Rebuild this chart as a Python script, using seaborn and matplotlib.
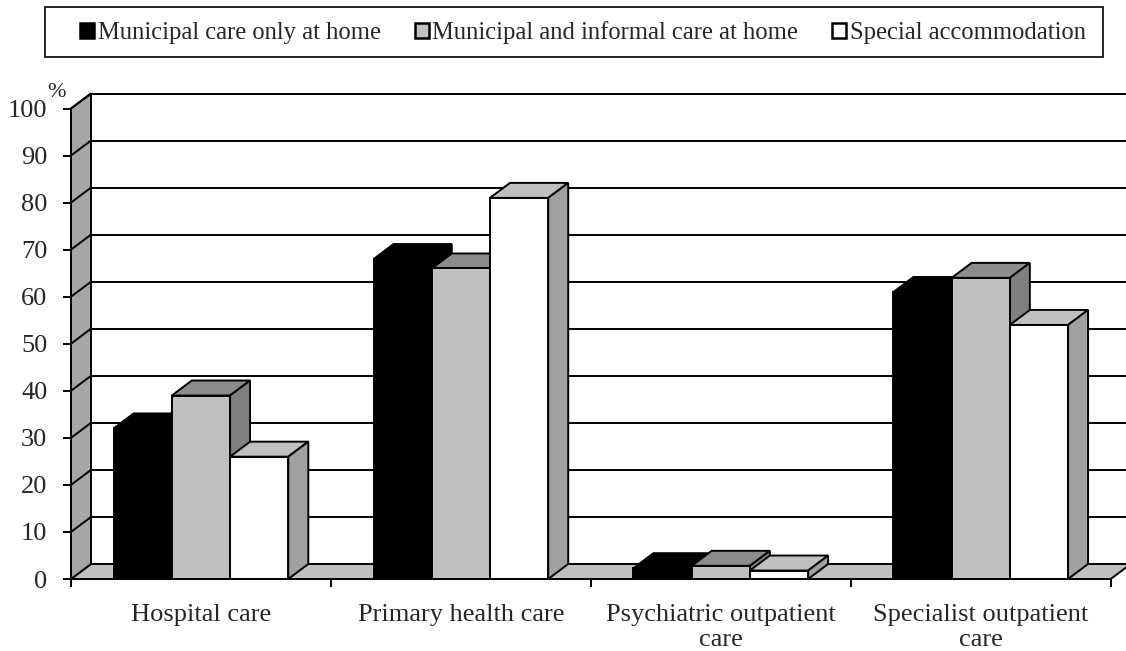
import matplotlib
matplotlib.use('Agg')
import pandas as pd
import seaborn as sns
import matplotlib.pyplot as plt
from matplotlib.patches import Polygon, Patch, Rectangle

categories = ['Hospital care', 'Primary health care',
              'Psychiatric outpatient\ncare', 'Specialist outpatient\ncare']
series = ['Municipal care only at home', 'Municipal and informal care at home',
          'Special accommodation']
home_only = [32, 68, 2.3, 61]
home_informal = [39, 66, 2.8, 64]
accommodation = [26, 81, 1.8, 54]
y_ticks = [0, 10, 20, 30, 40, 50, 60, 70, 80, 90, 100]

front_colors = ['#000000', '#c0c0c0', '#ffffff']
top_colors = ['#000000', '#8c8c8c', '#c0c0c0']
side_colors = ['#000000', '#808080', '#a0a0a0']
wall_color = '#a6a6a6'
floor_color = '#c0c0c0'

# depth of the fake 3D, in data units
DX = 20 / 260
DY = 15 / 4.705
LW = 1.4

sns.set_style('white')
plt.rcParams['font.family'] = ['Liberation Serif', 'DejaVu Serif']

df = pd.DataFrame({
    'category': categories * 3,
    'series': [s for s in series for _ in categories],
    'value': home_only + home_informal + accommodation,
})

fig = plt.figure(figsize=(11.26, 6.51), dpi=100)
ax = fig.add_axes([71 / 1126, 1 - 579 / 651, (1110.7 - 71) / 1126, (579 - 108.5) / 651])

sns.barplot(data=df, x='category', y='value', hue='series', order=categories, hue_order=series,
            palette=front_colors, width=0.672, gap=0, saturation=1, edgecolor='black',
            linewidth=LW, legend=False, ax=ax)

ax.set_xlim(-0.5, 3.5)
ax.set_ylim(0, 100)
x0, x1 = ax.get_xlim()

# floor and left wall
ax.add_patch(Polygon([(x0, 0), (x1, 0), (x1 + DX, DY), (x0 + DX, DY)], closed=True,
                     facecolor=floor_color, edgecolor='black', lw=LW, zorder=1, clip_on=False))
ax.add_patch(Polygon([(x0, 0), (x0 + DX, DY), (x0 + DX, 100 + DY), (x0, 100)], closed=True,
                     facecolor=wall_color, edgecolor='black', lw=LW, zorder=1, clip_on=False))

# gridlines on the back wall and left wall
for v in y_ticks[1:]:
    ax.plot([x0 + DX, x1 + DX], [v + DY, v + DY], color='black', lw=LW, zorder=1.5, clip_on=False)
    ax.plot([x0, x0 + DX], [v, v + DY], color='black', lw=LW, zorder=1.5, clip_on=False)

# top and side faces for each bar
for s, cont in enumerate(ax.containers):
    for bar in cont:
        left = bar.get_x()
        right = left + bar.get_width()
        h = bar.get_height()
        z = 3 + s
        edge = 'black'
        ax.add_patch(Polygon([(left, h), (right, h), (right + DX, h + DY), (left + DX, h + DY)],
                             closed=True, facecolor=top_colors[s], edgecolor=edge, lw=LW,
                             zorder=z, clip_on=False))
        ax.add_patch(Polygon([(right, 0), (right + DX, DY), (right + DX, h + DY), (right, h)],
                             closed=True, facecolor=side_colors[s], edgecolor=edge, lw=LW,
                             zorder=z, clip_on=False))
        bar.set_zorder(z + 0.5)

sns.despine(ax=ax, top=True, right=True)
for side in ['left', 'bottom']:
    ax.spines[side].set_linewidth(LW)
    ax.spines[side].set_color('black')
    ax.spines[side].set_zorder(8)

ax.set_xlabel('')
ax.set_ylabel('')
ax.set_yticks(y_ticks)
ax.tick_params(axis='y', length=6, width=LW, pad=11, labelsize=19, left=True, color='black')
ax.set_xticks(range(4))
ax.set_xticklabels(categories)
ax.set_xticks([-0.5, 0.5, 1.5, 2.5, 3.5], minor=True)
ax.tick_params(axis='x', which='major', length=0, pad=18, labelsize=19)
ax.tick_params(axis='x', which='minor', length=6, width=LW, bottom=True, color='black')
ax.text(-0.556, 103.3, '%', fontsize=16, ha='center', va='center', clip_on=False)

# legend frame is its own box, the entries sit off-centre inside it
fig.add_artist(Rectangle((45 / 1126, 1 - 57 / 651), 1058 / 1126, 50 / 651, transform=fig.transFigure,
                         facecolor='white', edgecolor='black', lw=1.2))
handles = [Patch(facecolor=c, edgecolor='black', lw=1.8) for c in front_colors]
fig.legend(handles, series, loc='center left', ncol=3, borderaxespad=0, borderpad=0,
           bbox_to_anchor=(80 / 1126, 1 - 33 / 651),
           fontsize=17.7, frameon=False,
           handlelength=0.58, handleheight=0.58, handletextpad=0.14,
           columnspacing=1.38)

fig.savefig('out.png', dpi=100)
